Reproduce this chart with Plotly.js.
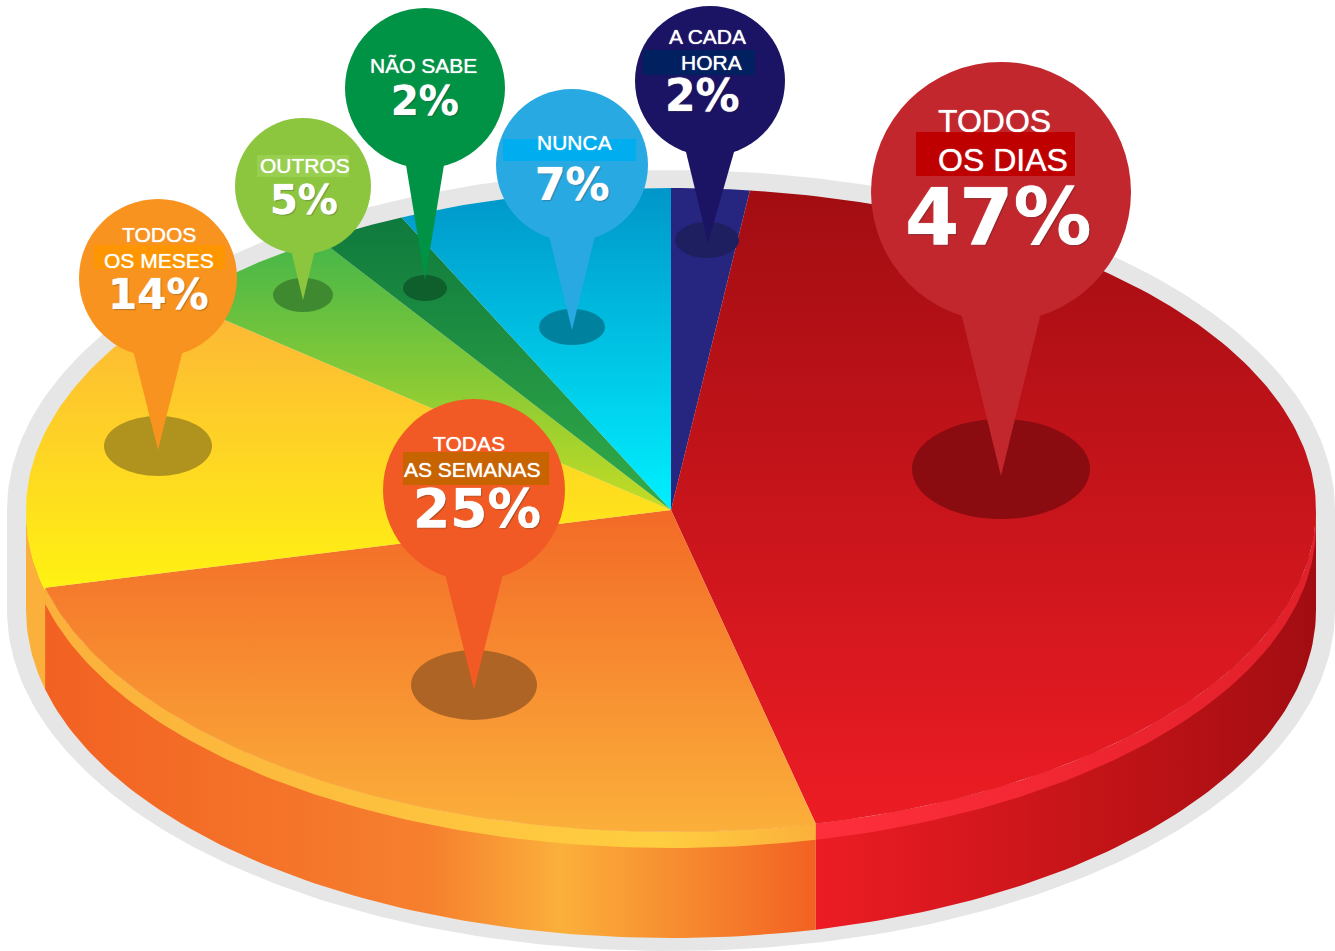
<!DOCTYPE html>
<html><head><meta charset="utf-8">
<script src="https://cdn.plot.ly/plotly-3.0.1.min.js"></script>
<style>html,body{margin:0;padding:0;background:#fff}#chart{width:1335px;height:951px}</style>
</head><body><div id="chart"></div>
<script>
// ---- data (clockwise from 12 o'clock) ----
const categories = ["A CADA HORA","TODOS OS DIAS","TODAS AS SEMANAS","TODOS OS MESES","OUTROS","NÃO SABE","NUNCA"];
const values = [2,47,25,14,5,2,7];                       // printed percentages
const sectorShares = [1.95,44.4,24.7,15.1,4.6,2.3,6.85]; // share of the turn each sector really occupies in the picture
const labelLines = [["A CADA","HORA"],["TODOS","OS DIAS"],["TODAS","AS SEMANAS"],["TODOS","OS MESES"],["OUTROS"],["NÃO SABE"],["NUNCA"]];

// ---- styles ----
const topGradients = [
  [[0,"#262680"],[1,"#262680"]],
  [[0,"#a20d12"],[1,"#ed1c24"]],
  [[0,"#f36a27"],[1,"#fbae3a"]],
  [[0,"#fdb935"],[1,"#fff212"]],
  [[0,"#45b649"],[1,"#c4dc24"]],
  [[0,"#0f7a3d"],[1,"#33ab49"]],
  [[0,"#0096c9"],[1,"#00f0ff"]]
];
const gradientSpans = [[190,510],[190,825],[510,825],[322,588],[240,510],[218,510],[188,510]];
const pinColors = ["#1b1464","#c1272d","#f15a24","#f7931e","#8cc63f","#009245","#29a9e1"];
const shadowColors = ["#1e1f60","#8a0b10","#ad6425","#b0931e","#3f8a30","#0f5f2d","#00829f"];

// ---- layout geometry of the pins (pixel axes) ----
const pinCx = [710,1001,474,158,303,425,572];
const pinCy = [81,192,490,278,186,88,165];
const pinR  = [75,130,91,79,68,80,76];
const tailHalf = [24,40,29,25,12,19,23];
const tailY = [152,313,574,350,250,165,236];
const tipX = [708,1001,474,158,303,425,572];
const tipY = [243,476,690,450,300,280,330];
const shadowCx = [707,1001,474,158,303,425,572];
const shadowCy = [240,469,685,446,295,288,327];
const shadowRx = [32,89,63,54,30,22,33];
const shadowRy = [18,50,35,30,17,13,18];
const labelX = [[707,711],[994,1003],[469,472],[159,159],[305],[423],[574]];
const labelY = [[36,62],[121,160],[443,469],[234,260],[165],[65],[142]];
const labelSize = [21,32,21,21,21,21,21];
const pctX = [702,998,477,158,304,425,572];
const pctY = [95,217,508,294,200,101,184];
const pctSize = [44,78,53.5,42,40,40,44];
const highlights = [[643,755,50,75,"#00205f"],[916,1075,132,176,"#bf0000"],[403,549,452,485,"#c86400"],[94,225,245,269,"#fd9600"],[257,349,155,177,"#98cf4f"],null,[503,636,139,161,"#00aeef"]];

// ---- pie geometry ----
const CX=671, CY=510, RX=645, RY_TOP=322, RIM=16, CY_BASE=610, RY_BASE=328;
const rad = d=>d*Math.PI/180;
const px = t=>CX+RX*Math.sin(rad(t));
const py = (t,cy,ry)=>cy-ry*Math.cos(rad(t));
function arc(t0,t1,cy,ry){const n=Math.max(8,Math.ceil(Math.abs(t1-t0)));const xs=[],ys=[];
  for(let i=0;i<=n;i++){const t=t0+(t1-t0)*i/n;xs.push(px(t));ys.push(py(t,cy,ry));}return [xs,ys];}
function band(t0,t1,cyA,ryA,cyB,ryB){const a=arc(t0,t1,cyA,ryA),b=arc(t1,t0,cyB,ryB);return [a[0].concat(b[0]),a[1].concat(b[1])];}
function poly(xy,grad,type,start,stop){return {x:xy[0],y:xy[1],type:"scatter",mode:"lines",line:{width:0},fill:"toself",hoverinfo:"skip",showlegend:false,
  fillgradient:{type:type,colorscale:grad,start:start,stop:stop}};}

const total = sectorShares.reduce((a,b)=>a+b,0);
const bounds=[0]; sectorShares.forEach(s=>bounds.push(bounds[bounds.length-1]+s/total*360));
const redEnd=bounds[2], orangeEnd=bounds[3];

const traces=[];
// backing plate
(function(){const a=arc(-90,90,CY,340),b=arc(90,270,CY_BASE,341);
  const xs=a[0].concat(b[0]).map(x=>CX+(x-CX)*664/645), ys=a[1].concat(b[1]);
  traces.push({x:xs,y:ys,type:"scatter",mode:"lines",line:{width:0},fill:"toself",fillcolor:"#e6e6e6",hoverinfo:"skip",showlegend:false});})();
// side wall
traces.push(poly(band(90,redEnd,CY,RY_TOP,CY_BASE,RY_BASE),[[0,"#ed1c24"],[0.55,"#c41418"],[1,"#a20d12"]],"horizontal",px(redEnd),px(90)));
traces.push(poly(band(redEnd,orangeEnd,CY,RY_TOP,CY_BASE,RY_BASE),[[0,"#f26122"],[0.5,"#f6802e"],[0.67,"#fbb03b"],[1,"#f26122"]],"horizontal",px(orangeEnd),px(redEnd)));
traces.push(poly(band(orangeEnd,270,CY,RY_TOP,CY_BASE,RY_BASE),[[0,"#fbb03b"],[1,"#fbb03b"]],"horizontal",0,100));
// rim
traces.push(poly(band(90,redEnd,CY,RY_TOP,CY+RIM,RY_TOP),[[0,"#fe2f3c"],[0.6,"#ee2530"],[1,"#e0202a"]],"horizontal",px(redEnd),px(90)));
traces.push(poly(band(redEnd,orangeEnd,CY,RY_TOP,CY+RIM,RY_TOP),[[0,"#fbb03b"],[0.8,"#ffce40"],[1,"#fbb03b"]],"horizontal",px(orangeEnd),px(redEnd)));
traces.push(poly(band(orangeEnd,270,CY,RY_TOP,CY+3,RY_TOP),[[0,"#ffff00"],[1,"#ffff00"]],"horizontal",0,100));
// top sectors
sectorShares.forEach((s,i)=>{const a=arc(bounds[i],bounds[i+1],CY,RY_TOP);
  traces.push(poly([[CX].concat(a[0],[CX]),[CY].concat(a[1],[CY])],topGradients[i],"vertical",gradientSpans[i][0],gradientSpans[i][1]));});

// pins, drawn in data coordinates of the pixel axes
const shapes=[], annotations=[];
const base={xref:"x",yref:"y",line:{width:0},layer:"above"};
categories.forEach((c,i)=>{
  shapes.push(Object.assign({},base,{type:"circle",x0:shadowCx[i]-shadowRx[i],x1:shadowCx[i]+shadowRx[i],y0:shadowCy[i]-shadowRy[i],y1:shadowCy[i]+shadowRy[i],fillcolor:shadowColors[i]}));
  shapes.push(Object.assign({},base,{type:"path",path:`M${pinCx[i]-tailHalf[i]},${tailY[i]} L${tipX[i]},${tipY[i]} L${pinCx[i]+tailHalf[i]},${tailY[i]} Z`,fillcolor:pinColors[i]}));
  shapes.push(Object.assign({},base,{type:"circle",x0:pinCx[i]-pinR[i],x1:pinCx[i]+pinR[i],y0:pinCy[i]-pinR[i],y1:pinCy[i]+pinR[i],fillcolor:pinColors[i]}));
  const h=highlights[i];
  if(h) shapes.push(Object.assign({},base,{type:"rect",x0:h[0],x1:h[1],y0:h[2],y1:h[3],fillcolor:h[4]}));
  labelLines[i].forEach((t,j)=>annotations.push({text:t,x:labelX[i][j],y:labelY[i][j],xref:"x",yref:"y",xanchor:"center",yanchor:"middle",showarrow:false,
    font:{family:"Liberation Sans, Arial, sans-serif",size:labelSize[i],color:"#fff",shadow:"0 0 1px #fff"}}));
  annotations.push({text:values[i]+"%",x:pctX[i],y:pctY[i],xref:"x",yref:"y",xanchor:"center",yanchor:"middle",showarrow:false,
    font:{family:"DejaVu Sans, sans-serif",weight:700,size:pctSize[i],color:"#fff",shadow:"0 0 1px #fff, 1px 1px 1px rgba(0,0,0,0.3)"}});
});

Plotly.newPlot("chart",traces,{
  width:1335,height:951,margin:{l:0,r:0,t:0,b:0},paper_bgcolor:"#fff",plot_bgcolor:"#fff",showlegend:false,
  xaxis:{range:[0,1335],visible:false,fixedrange:true},
  yaxis:{range:[951,0],visible:false,fixedrange:true},
  shapes:shapes,annotations:annotations,hovermode:false
},{displayModeBar:false,staticPlot:true});
</script></body></html>
